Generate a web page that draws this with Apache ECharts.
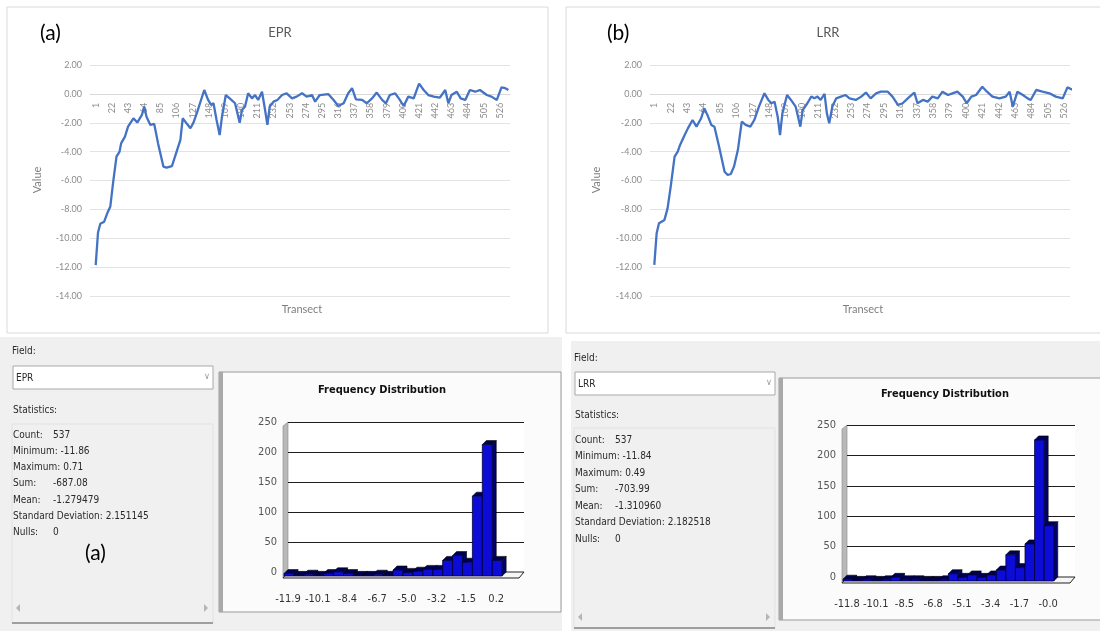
<!DOCTYPE html>
<html><head><meta charset="utf-8">
<script src="https://cdn.jsdelivr.net/npm/echarts@6/dist/echarts.min.js"></script>
<style>html,body{margin:0;padding:0;background:#fff}#c{width:1100px;height:631px}</style>
</head><body><div id="c"></div>
<script>
// ---------- data ----------
const transectTicks = [1,22,43,64,85,106,127,148,169,190,211,232,253,274,295,316,337,358,379,400,421,442,463,484,505,526];

const eprTransect = [1,4,7,12,16,20,24,28,32,34,39,43,50,55,61,64,67,72,77,82,89,93,100,104,111,114,119,124,128,133,142,147,151,154,158,162,165,170,175,182,188,191,195,199,204,208,212,217,221,224,227,232,237,243,249,256,262,269,275,282,286,292,303,310,316,323,329,334,339,347,353,360,366,373,378,383,390,396,401,407,414,421,427,433,440,448,455,459,463,470,475,481,487,494,500,509,515,522,528,533,537];
const eprValue = [-11.86,-9.6,-9.0,-8.85,-8.27,-7.8,-5.97,-4.35,-4.0,-3.43,-2.96,-2.27,-1.69,-1.99,-1.46,-0.88,-1.58,-2.15,-2.08,-3.43,-5.04,-5.11,-5.0,-4.35,-3.19,-1.69,-2.04,-2.38,-1.99,-1.23,0.27,-0.42,-0.77,-0.65,-1.81,-2.85,-1.58,-0.08,-0.31,-0.65,-2.0,-1.12,-0.88,0.04,-0.31,-0.08,-0.42,0.15,-1.12,-2.15,-0.88,-0.54,-0.42,-0.08,0.04,-0.31,-0.19,0.04,-0.19,-0.08,-0.54,-0.08,-0.01,-0.42,-0.84,-0.65,0.04,0.39,-0.38,-0.42,-0.65,-0.31,0.09,-0.42,-0.65,-0.08,0.04,-0.42,-0.84,-0.19,-0.31,0.71,0.27,-0.08,-0.19,-0.26,0.27,-0.65,-0.08,0.15,-0.31,-0.42,0.27,0.15,0.27,-0.08,-0.19,-0.42,0.45,0.39,0.27];

const lrrTransect = [1,4,7,14,18,22,27,31,34,39,44,50,55,61,65,69,74,78,84,91,95,99,103,108,113,118,124,129,135,142,147,151,155,159,162,165,171,176,182,188,191,197,202,206,210,214,219,222,225,229,234,240,246,251,259,266,272,278,285,291,300,306,313,319,328,334,338,345,351,357,364,370,377,383,389,396,401,407,413,421,427,434,443,451,456,460,466,473,479,483,490,498,507,515,524,530,537];
const lrrValue = [-11.84,-9.66,-8.96,-8.73,-7.93,-6.43,-4.35,-4.0,-3.54,-2.96,-2.39,-1.81,-2.27,-1.69,-1.0,-1.46,-2.15,-2.27,-3.66,-5.39,-5.62,-5.55,-5.04,-3.89,-1.92,-2.15,-2.27,-1.81,-0.88,0.04,-0.42,-0.65,-0.54,-1.58,-2.85,-1.35,-0.08,-0.42,-0.88,-2.27,-1.12,-0.65,-0.19,-0.31,-0.19,-0.42,0.0,-1.35,-2.04,-0.88,-0.31,-0.19,-0.08,-0.31,-0.42,-0.19,0.09,-0.31,0.04,0.15,0.15,-0.19,-0.77,-0.65,-0.19,0.09,-0.65,-0.42,-0.54,-0.19,-0.31,0.15,-0.08,0.04,0.15,-0.19,-0.65,-0.19,-0.08,0.49,0.15,-0.19,-0.31,-0.19,0.15,-0.88,0.15,-0.08,-0.31,-0.42,0.27,0.15,0.04,-0.19,-0.31,0.45,0.27];

const eprCounts = [4,1,3,1,4,7,4,1,1,3,1,10,6,8,11,11,26,34,23,133,219,26];
const lrrCounts = [3,1,2,1,2,6,2,2,1,1,2,12,6,10,6,10,18,43,22,61,232,91];
const eprBinLabels = ['-11.9','-10.1','-8.4','-6.7','-5.0','-3.2','-1.5','0.2'];
const lrrBinLabels = ['-11.8','-10.1','-8.5','-6.8','-5.1','-3.4','-1.7','-0.0'];
const binLabelPos = [0,3,6,9,12,15,18,21];

const eprStats = [['Count:','537'],['Minimum:','-11.86'],['Maximum:','0.71'],['Sum:','-687.08'],['Mean:','-1.279479'],['Standard Deviation:','2.151145'],['Nulls:','0']];
const lrrStats = [['Count:','537'],['Minimum:','-11.84'],['Maximum:','0.49'],['Sum:','-703.99'],['Mean:','-1.310960'],['Standard Deviation:','2.182518'],['Nulls:','0']];

// ---------- helpers ----------
const NARROW = "'Liberation Sans Narrow','DejaVu Sans Condensed',sans-serif";
const CAL = "Lato,'Open Sans',sans-serif";
const LINE = '#4472c4';
const Y_MIN = -14, Y_MAX = 2, LINE_GRID_H = 231;
// the category axis crosses the value axis at 0
const zeroOffset = -LINE_GRID_H * (0 - Y_MIN) / (Y_MAX - Y_MIN);

function lineXAxis(idx, min, max) {
  return {
    gridIndex: idx, type: 'value', min: min, max: max, position: 'bottom', offset: zeroOffset,
    axisLine: { onZero: false, lineStyle: { color: '#d9d9d9' } },
    axisTick: { show: false },
    splitLine: { show: false },
    axisLabel: { customValues: transectTicks, rotate: 90, fontSize: 9, color: '#8c8c8c', margin: 9, fontFamily: CAL }
  };
}
function lineYAxis(idx) {
  return {
    gridIndex: idx, type: 'value', min: Y_MIN, max: Y_MAX, interval: 2,
    axisLine: { show: false, onZero: false }, axisTick: { show: false },
    splitLine: { lineStyle: { color: '#e3e3e3' } },
    axisLabel: { fontSize: 9, color: '#8c8c8c', fontFamily: CAL, margin: 8, formatter: v => v.toFixed(2) }
  };
}
function histXAxis(idx, labels) {
  return {
    gridIndex: idx, type: 'value', min: 0, max: 23.8,
    axisLine: { show: false, onZero: false }, axisTick: { show: false }, splitLine: { show: false },
    axisLabel: { customValues: binLabelPos, fontSize: 11, color: '#333', fontFamily: NARROW, margin: 22,
      formatter: v => labels[binLabelPos.indexOf(Math.round(v))] }
  };
}
function histYAxis(idx) {
  return {
    gridIndex: idx, type: 'value', min: 0, max: 250, interval: 50,
    axisLine: { show: false, onZero: false }, axisTick: { show: false },
    splitLine: { lineStyle: { color: '#1e1e1e', width: 1.2 } },
    axisLabel: { fontSize: 11, color: '#555', fontFamily: NARROW, margin: 11 }
  };
}
function bar3d(params, api) {
  const i = api.value(0), c = api.value(1);
  const b = api.coord([i, 0]);
  const t = api.coord([i + 1, c]);
  const dx = 4, dy = 4;
  const xl = b[0] - dx, xr = t[0] - dx;
  const yb = b[1] + dy, yt = t[1] + dy;
  return { type: 'group', children: [
    { type: 'polygon', shape: { points: [[xr, yt], [xr + dx, yt - dy], [xr + dx, yb - dy], [xr, yb]] },
      style: { fill: '#00006e', stroke: '#000', lineWidth: 0.6 } },
    { type: 'polygon', shape: { points: [[xl, yt], [xr, yt], [xr + dx, yt - dy], [xl + dx, yt - dy]] },
      style: { fill: '#000050', stroke: '#000', lineWidth: 0.6 } },
    { type: 'rect', shape: { x: xl, y: yt, width: xr - xl, height: yb - yt },
      style: { fill: '#0c0cd6', stroke: '#00003a', lineWidth: 0.8 } }
  ] };
}
function txt(x, y, s, o) {
  return { type: 'text', x: x, y: y, z: 10,
    style: Object.assign({ text: s, fill: '#2a2a2a', font: '10px ' + NARROW, textVerticalAlign: 'middle' }, (o || {})) };
}
function statsBlock(x0, y0, step, stats) {
  const out = [];
  stats.forEach((r, k) => {
    const y = y0 + k * step;
    if (r[0] === 'Minimum:' || r[0] === 'Maximum:' || r[0] === 'Standard Deviation:') {
      out.push(txt(x0, y, r[0] + ' ' + r[1]));
    } else {
      out.push(txt(x0, y, r[0]));
      out.push(txt(x0 + 40, y, r[1]));
    }
  });
  return out;
}
function panelSide(x, yField, yDrop, yStat, yBoxTop, yBoxBot, ySb, fieldName, stats, rowY0, rowStep, w) {
  return [
    txt(x, yField, 'Field:'),
    { type: 'rect', z: -5, shape: { x: x + 1, y: yDrop, width: w, height: 23 }, style: { fill: '#fff', stroke: '#a8a8a8', lineWidth: 1 } },
    txt(x + 4, yDrop + 12, fieldName),
    txt(x + w - 8, yDrop + 11, '\u2228', { fill: '#999', font: '9px ' + NARROW }),
    txt(x + 1, yStat, 'Statistics:'),
    { type: 'rect', z: -5, shape: { x: x, y: yBoxTop, width: w + 1, height: yBoxBot - yBoxTop }, style: { fill: '#f0f0f0', stroke: '#e2e2e2', lineWidth: 1 } },
    { type: 'line', z: -4, shape: { x1: x, y1: yBoxBot, x2: x + w + 1, y2: yBoxBot }, style: { stroke: '#555', lineWidth: 1 } },
    { type: 'polygon', z: -4, shape: { points: [[x + 8, ySb], [x + 4, ySb + 4], [x + 8, ySb + 8]] }, style: { fill: '#b5b5b5' } },
    { type: 'polygon', z: -4, shape: { points: [[x + w - 8, ySb], [x + w - 4, ySb + 4], [x + w - 8, ySb + 8]] }, style: { fill: '#b5b5b5' } }
  ].concat(statsBlock(x + 1, rowY0, rowStep, stats));
}
function histChrome(gx, gy, gw, gh, px, py, pw, ph, titleX, titleY) {
  return [
    { type: 'rect', z: -8, shape: { x: px, y: py, width: pw, height: ph }, style: { fill: '#fbfbfb', stroke: '#9a9a9a', lineWidth: 1 } },
    { type: 'rect', z: -7, shape: { x: px, y: py, width: 4, height: ph }, style: { fill: '#a9a9a9' } },
    txt(titleX, titleY, 'Frequency Distribution', { font: 'bold 11px ' + NARROW, fill: '#111', textAlign: 'center' }),
    { type: 'rect', z: -6, shape: { x: gx, y: gy, width: gw, height: gh }, style: { fill: '#ffffff' } },
    { type: 'polygon', z: -5, shape: { points: [[gx - 5, gy + 4], [gx, gy], [gx, gy + gh], [gx - 5, gy + gh + 6]] }, style: { fill: '#b9b9b9', stroke: '#888', lineWidth: 0.6 } },
    { type: 'polygon', z: 1, shape: { points: [[gx, gy + gh], [gx + gw, gy + gh], [gx + gw - 5, gy + gh + 6], [gx - 5, gy + gh + 6]] }, style: { fill: '#f6f6f6', stroke: '#222', lineWidth: 1 } }
  ];
}

// ---------- graphics ----------
let graphics = [
  { type: 'rect', z: -10, shape: { x: 7, y: 7, width: 541, height: 326 }, style: { fill: '#fff', stroke: '#d9d9d9', lineWidth: 1 } },
  { type: 'rect', z: -10, shape: { x: 566, y: 7, width: 545, height: 326 }, style: { fill: '#fff', stroke: '#d9d9d9', lineWidth: 1 } },
  { type: 'rect', z: -10, shape: { x: 0, y: 337, width: 562, height: 294 }, style: { fill: '#f0f0f0' } },
  { type: 'rect', z: -10, shape: { x: 571, y: 341, width: 529, height: 290 }, style: { fill: '#f0f0f0' } },
  txt(40, 33, '(a)', { font: '21px ' + CAL, fill: '#000' }),
  txt(607, 33, '(b)', { font: '21px ' + CAL, fill: '#000' }),
  txt(280, 33, 'EPR', { font: '13px ' + CAL, fill: '#595959', textAlign: 'center' }),
  txt(828, 33, 'LRR', { font: '13px ' + CAL, fill: '#595959', textAlign: 'center' }),
  txt(302, 309, 'Transect', { font: '11px ' + CAL, fill: '#7f7f7f', textAlign: 'center' }),
  txt(863, 309, 'Transect', { font: '11px ' + CAL, fill: '#7f7f7f', textAlign: 'center' }),
  { type: 'text', z: 10, x: 37, y: 180, rotation: Math.PI / 2, style: { text: 'Value', font: '11px ' + CAL, fill: '#7f7f7f', textAlign: 'center', textVerticalAlign: 'middle' } },
  { type: 'text', z: 10, x: 596, y: 180, rotation: Math.PI / 2, style: { text: 'Value', font: '11px ' + CAL, fill: '#7f7f7f', textAlign: 'center', textVerticalAlign: 'middle' } },
  txt(85, 553, '(a)', { font: '21px ' + CAL, fill: '#000' })
];
graphics = graphics
  .concat(panelSide(12, 351, 366, 410, 424, 623, 604, 'EPR', eprStats, 435, 16.3, 200))
  .concat(panelSide(574, 358, 372, 415, 428, 628, 613, 'LRR', lrrStats, 440, 16.5, 200))
  .concat(histChrome(288, 422, 236, 150, 219, 372, 342, 240, 382, 390))
  .concat(histChrome(847, 425, 228, 152, 779, 378, 330, 242, 945, 394));

// ---------- chart ----------
const chart = echarts.init(document.getElementById('c'), null, { renderer: 'canvas' });
chart.setOption({
  animation: false,
  backgroundColor: '#fff',
  grid: [
    { left: 90, top: 65, width: 420, height: LINE_GRID_H },
    { left: 650, top: 65, width: 420, height: LINE_GRID_H },
    { left: 288, top: 422, width: 236, height: 150 },
    { left: 847, top: 425, width: 228, height: 152 }
  ],
  xAxis: [lineXAxis(0, -6.4, 539.1), lineXAxis(1, -4.5, 533.3), histXAxis(2, eprBinLabels), histXAxis(3, lrrBinLabels)],
  yAxis: [lineYAxis(0), lineYAxis(1), histYAxis(2), histYAxis(3)],
  graphic: { elements: graphics },
  series: [
    { type: 'line', xAxisIndex: 0, yAxisIndex: 0, showSymbol: false, clip: false,
      data: eprTransect.map((t, i) => [t, eprValue[i]]), lineStyle: { color: LINE, width: 2.3 } },
    { type: 'line', xAxisIndex: 1, yAxisIndex: 1, showSymbol: false, clip: false,
      data: lrrTransect.map((t, i) => [t, lrrValue[i]]), lineStyle: { color: LINE, width: 2.3 } },
    { type: 'custom', xAxisIndex: 2, yAxisIndex: 2, z: 3, renderItem: bar3d, encode: { x: 0, y: 1 },
      data: eprCounts.map((c, i) => [i, c]) },
    { type: 'custom', xAxisIndex: 3, yAxisIndex: 3, z: 3, renderItem: bar3d, encode: { x: 0, y: 1 },
      data: lrrCounts.map((c, i) => [i, c]) }
  ]
});
</script></body></html>
